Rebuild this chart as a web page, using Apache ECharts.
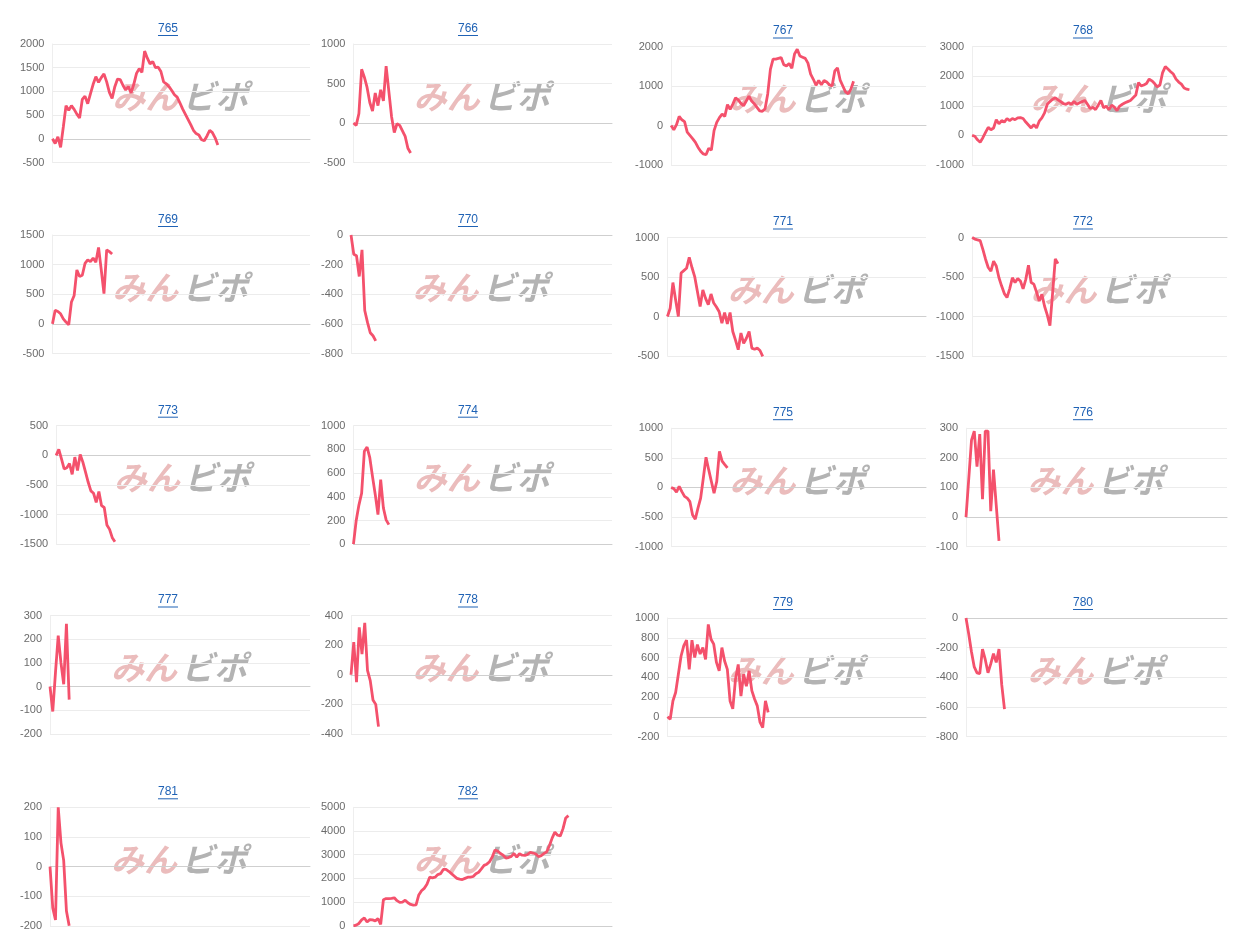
<!DOCTYPE html>
<html><head><meta charset="utf-8">
<script src="https://cdn.jsdelivr.net/npm/echarts@6/dist/echarts.min.js"></script>
<style>html,body{margin:0;padding:0;background:#fff}#c{width:1238px;height:938px}</style>
</head><body><div id="c"></div>
<script>
const panelIds = ['765','766','767','768','769','770','771','772','773','774','775','776','777','778','779','780','781','782'];

const s765 = [0,-100,40,-180,250,700,600,700,620,520,440,830,900,740,950,1150,1310,1190,1290,1370,1200,980,850,1100,1260,1250,1130,1030,1100,970,1150,1380,1480,1400,1850,1700,1580,1630,1500,1510,1420,1200,1160,1100,1020,930,880,760,630,520,410,300,180,110,80,-20,-40,60,180,130,20,-130];
const s766 = [0,-30,120,680,580,450,260,150,380,220,420,280,720,400,80,-120,-10,-30,-100,-170,-320,-380];
const s767 = [0,-110,20,230,145,100,-170,-250,-330,-420,-550,-650,-720,-740,-580,-620,-130,80,200,290,230,530,410,540,700,650,560,500,620,740,620,550,460,370,360,420,800,1420,1680,1680,1700,1720,1540,1510,1570,1450,1810,1930,1760,1730,1700,1580,1300,1170,1020,1140,1030,1140,1100,1030,1000,1380,1460,1150,1000,850,800,920,1120];
const s768 = [0,-30,-150,-230,-80,100,270,190,250,530,390,500,450,570,500,570,530,590,600,570,450,350,250,360,250,480,590,760,1050,1140,1220,1270,1200,1140,1070,1050,1100,1050,1140,1050,1100,1140,1180,1050,910,950,870,1020,1180,930,990,870,1020,950,840,990,1050,1100,1140,1180,1270,1360,1780,1670,1700,1750,1900,1840,1750,1640,1700,2120,2320,2240,2150,2070,1900,1800,1730,1600,1560,1540];
const s769 = [0,230,210,170,85,30,-15,370,480,910,800,820,1020,1080,1050,1110,1040,1290,910,510,1250,1220,1180];
const s770 = [0,-130,-140,-280,-100,-510,-590,-660,-680,-715];
const s771 = [0,105,430,210,0,550,580,610,750,620,505,315,125,335,230,150,285,170,120,60,-85,50,-95,50,-190,-300,-420,-210,-340,-275,-190,-400,-415,-400,-430,-505];
const s772 = [0,-20,-30,-40,-150,-275,-380,-425,-300,-360,-510,-615,-710,-760,-650,-510,-570,-520,-550,-650,-530,-350,-570,-590,-690,-805,-720,-870,-980,-1115,-700,-270,-330];
const s773 = [0,100,-60,-230,-210,-140,-320,-30,-255,15,-115,-285,-455,-600,-640,-795,-610,-850,-880,-1175,-1250,-1390,-1460];
const s774 = [0,200,330,430,785,820,730,570,420,250,545,305,205,165];
const s775 = [0,-20,-80,20,-70,-150,-180,-240,-465,-535,-350,-180,160,510,300,100,-95,100,610,445,385,330];
const s776 = [0,130,260,290,170,280,60,290,290,20,160,40,-80];
const s777 = [0,-105,60,215,100,10,265,-55];
const s778 = [0,220,-50,320,140,350,30,-40,-170,-200,-350];
const s779 = [0,-25,160,245,430,615,720,775,480,775,600,730,635,700,580,935,785,735,550,465,700,565,480,160,80,380,530,210,430,310,465,265,180,110,-55,-110,160,45];
const s780 = [0,-110,-230,-330,-370,-375,-210,-280,-370,-310,-240,-300,-210,-450,-615];
const s781 = [0,-140,-180,200,80,20,-150,-200];
const s782 = [0,30,100,250,330,160,260,250,210,300,60,1100,1150,1150,1160,1180,1060,990,1000,1080,970,900,870,880,1300,1480,1580,1750,2050,2020,2050,2160,2200,2380,2380,2300,2200,2100,2000,1970,1950,2000,2050,2050,2080,2200,2260,2400,2550,2600,2700,2900,3200,3150,3050,2980,2860,2880,2930,3050,2900,3040,2980,2970,3010,3100,3070,3030,2920,2960,3050,3120,3380,3700,3950,3820,3790,4100,4550,4650];

const seriesData = [s765,s766,s767,s768,s769,s770,s771,s772,s773,s774,s775,s776,s777,s778,s779,s780,s781,s782];

const yMin  = [-500,-500,-1000,-1000,-500,-800,-500,-1500,-1500,0,-1000,-100,-200,-400,-200,-800,-200,0];
const yMax  = [2000,1000,2000,3000,1500,0,1000,0,500,1000,1000,300,300,400,1000,0,200,5000];
const yStep = [500,500,1000,1000,500,200,500,500,500,200,500,100,100,200,200,200,100,1000];

const categoryCount = 96;
const xCategories = [];
for (let i = 1; i <= categoryCount; i++) xCategories.push(String(i));

const watermarkLeft = 'みん';
const watermarkRight = 'ビポ';

// layout
const colLabelLeft = [20, 321, 635, 936];
const colRight = [310, 612, 926, 1227];
const colCenter = [168, 468, 783, 1083];
const rowTop = [44, 235, 425.7, 615.5, 807.3];
const rightColShift = 2.5;
const gridH = 118.5;
const labelFont = '11px "Liberation Sans", Arial, sans-serif';
const titleColor = '#1f62b5';
const lineColor = '#f4516c';

const cv = document.createElement('canvas').getContext('2d');
function tw(txt, font) { cv.font = font; return cv.measureText(txt).width; }

const grids = [], xAxes = [], yAxes = [], series = [], graphics = [];
for (let p = 0; p < panelIds.length; p++) {
  const col = p % 4, row = Math.floor(p / 4);
  const shift = col >= 2 ? rightColShift : 0;
  const top = rowTop[row] + shift;
  let maxW = 0;
  for (let v = yMin[p]; v <= yMax[p] + 1e-9; v += yStep[p]) maxW = Math.max(maxW, tw(String(v), labelFont));
  const gl = colLabelLeft[col] + maxW + 8;
  const gr = colRight[col];
  grids.push({ left: gl, top: top, width: gr - gl, height: gridH });
  xAxes.push({
    type: 'category', gridIndex: p, data: xCategories, boundaryGap: false,
    axisLine: { show: true, onZero: true, lineStyle: { color: '#cfcfcf', width: 1 } },
    axisTick: { show: false }, axisLabel: { show: false }, splitLine: { show: false }
  });
  yAxes.push({
    type: 'value', gridIndex: p, min: yMin[p], max: yMax[p], interval: yStep[p],
    axisLine: { show: true, lineStyle: { color: '#eeeeee' } }, axisTick: { show: false },
    axisLabel: { color: '#6b6b6b', fontSize: 11, fontFamily: '"Liberation Sans", Arial, sans-serif', margin: 8,
      formatter: function (v) { return String(v); } },
    splitLine: { lineStyle: { color: '#ececec' } }
  });
  series.push({
    type: 'line', xAxisIndex: p, yAxisIndex: p, data: seriesData[p], showSymbol: false,
    lineStyle: { color: lineColor, width: 2.8 }, itemStyle: { color: lineColor }, z: 5, animation: false
  });
  // title
  const ty = top - 15.5;
  const tfont = '12px "Liberation Sans", Arial, sans-serif';
  const w = tw(panelIds[p], tfont);
  graphics.push({ type: 'text', x: colCenter[col], y: ty, z: 10,
    style: { text: panelIds[p], fill: titleColor, font: tfont, textAlign: 'center', textVerticalAlign: 'middle' } });
  graphics.push({ type: 'line', z: 10, shape: { x1: colCenter[col] - w / 2, y1: ty + 7, x2: colCenter[col] + w / 2, y2: ty + 7 },
    style: { stroke: titleColor, lineWidth: 1 } });
  // watermark
  const cx = (gl + gr) / 2, cy = top + 52;
  const wfont = 'italic bold 33px "Noto Sans CJK JP", sans-serif';
  graphics.push({ type: 'text', x: cx - 3, y: cy, z: 0,
    style: { text: watermarkLeft, fill: '#ebbcbc', font: wfont, textAlign: 'right', textVerticalAlign: 'middle' } });
  graphics.push({ type: 'text', x: cx + 1, y: cy, z: 0,
    style: { text: watermarkRight, fill: '#b3b3b3', font: wfont, textAlign: 'left', textVerticalAlign: 'middle' } });
}

const chart = echarts.init(document.getElementById('c'), null, { renderer: 'canvas' });
chart.setOption({
  animation: false,
  backgroundColor: '#ffffff',
  grid: grids, xAxis: xAxes, yAxis: yAxes, series: series,
  graphic: { elements: graphics }
});
</script></body></html>
